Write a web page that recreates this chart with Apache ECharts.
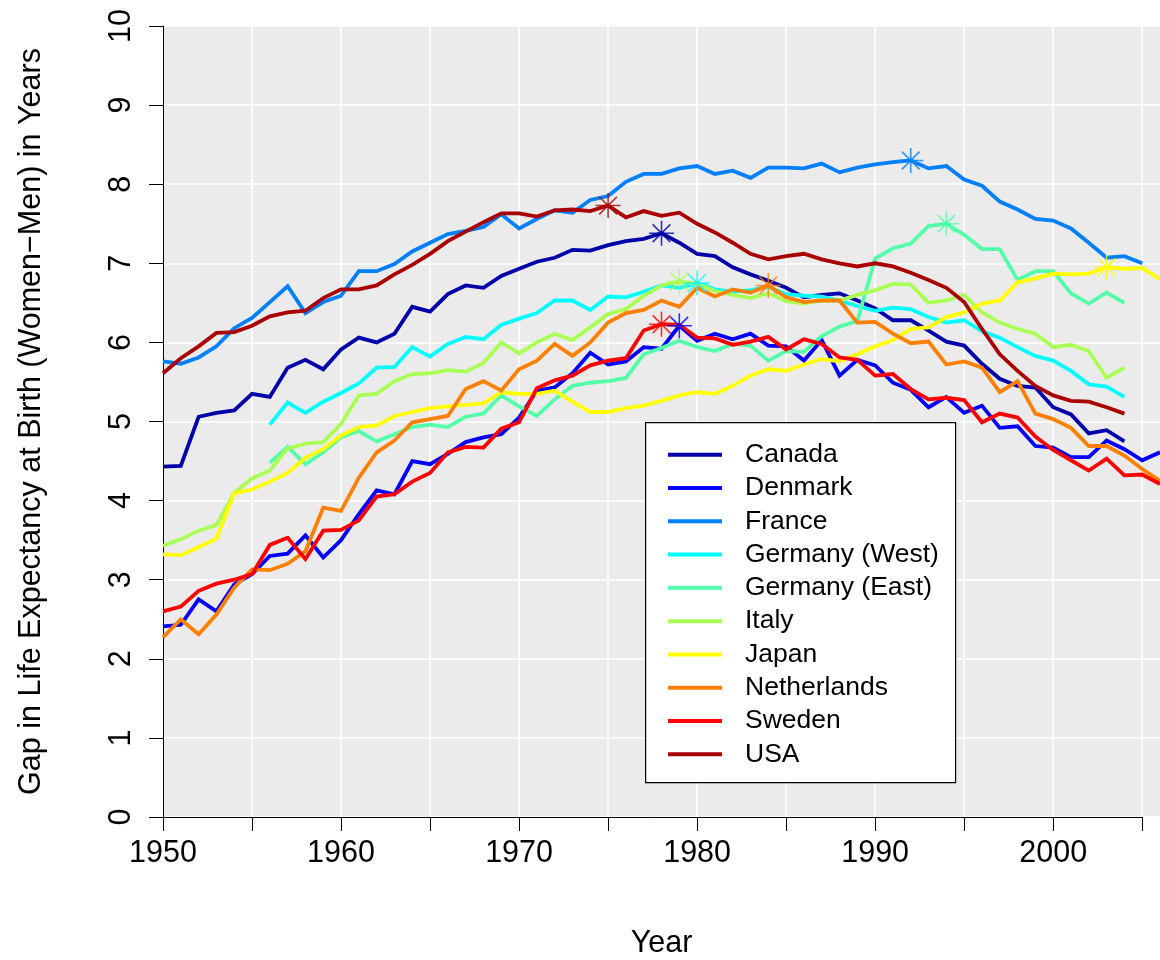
<!DOCTYPE html>
<html>
<head>
<meta charset="utf-8">
<title>Gap in Life Expectancy at Birth</title>
<script src="https://cdn.jsdelivr.net/npm/echarts@6/dist/echarts.min.js"></script>
<style>
  html, body { margin: 0; padding: 0; background: #ffffff; }
  #chart { width: 1160px; height: 960px; }
</style>
</head>
<body>
<div id="chart"></div>
<script>
// Gap (women minus men) in life expectancy at birth, years, by country.
const seriesNames = ['Canada', 'Denmark', 'France', 'Germany (West)', 'Germany (East)',
  'Italy', 'Japan', 'Netherlands', 'Sweden', 'USA'];
const firstYears = [1950, 1950, 1950, 1956, 1956, 1950, 1950, 1950, 1950, 1950];

const canada = [4.43, 4.44, 5.06, 5.11, 5.14, 5.35, 5.31, 5.68, 5.78, 5.66,
  5.91, 6.06, 6.00, 6.11, 6.45, 6.39, 6.61, 6.72, 6.69, 6.84,
  6.93, 7.02, 7.07, 7.17, 7.16, 7.23, 7.28, 7.31, 7.38, 7.26,
  7.12, 7.09, 6.95, 6.86, 6.78, 6.69, 6.57, 6.60, 6.62, 6.53,
  6.43, 6.28, 6.28, 6.15, 6.01, 5.96, 5.73, 5.54, 5.45, 5.43,
  5.18, 5.09, 4.85, 4.89, 4.75];
const denmark = [2.41, 2.43, 2.75, 2.60, 2.94, 3.07, 3.30, 3.33, 3.56, 3.28,
  3.50, 3.83, 4.13, 4.08, 4.50, 4.46, 4.59, 4.74, 4.80, 4.84,
  5.05, 5.39, 5.43, 5.61, 5.87, 5.72, 5.76, 5.94, 5.92, 6.21,
  6.02, 6.11, 6.04, 6.11, 5.96, 5.95, 5.77, 6.03, 5.58, 5.78,
  5.71, 5.49, 5.40, 5.18, 5.31, 5.11, 5.20, 4.92, 4.94, 4.69,
  4.67, 4.55, 4.55, 4.76, 4.65, 4.51, 4.61];
const france = [5.76, 5.73, 5.81, 5.95, 6.18, 6.31, 6.51, 6.71, 6.37, 6.51,
  6.59, 6.90, 6.90, 6.99, 7.15, 7.26, 7.37, 7.41, 7.46, 7.62,
  7.44, 7.56, 7.67, 7.64, 7.80, 7.85, 8.03, 8.13, 8.13, 8.20,
  8.23, 8.13, 8.17, 8.08, 8.21, 8.21, 8.20, 8.26, 8.15, 8.21,
  8.25, 8.28, 8.30, 8.20, 8.23, 8.06, 7.98, 7.78, 7.68, 7.56,
  7.54, 7.44, 7.26, 7.07, 7.09, 7.00];
const germanyWest = [4.96, 5.24, 5.11, 5.25,
  5.36, 5.48, 5.68, 5.69, 5.94, 5.82, 5.98, 6.07, 6.04, 6.22,
  6.30, 6.37, 6.53, 6.53, 6.41, 6.58, 6.57, 6.64, 6.72, 6.69,
  6.75, 6.67, 6.64, 6.66, 6.70, 6.61, 6.59, 6.58, 6.53, 6.46,
  6.40, 6.44, 6.42, 6.32, 6.25, 6.28, 6.14, 6.06, 5.94, 5.83,
  5.77, 5.64, 5.47, 5.44, 5.31];
const germanyEast = [4.48, 4.68, 4.46, 4.61,
  4.80, 4.88, 4.75, 4.84, 4.93, 4.96, 4.93, 5.06, 5.10, 5.33,
  5.19, 5.07, 5.28, 5.45, 5.49, 5.51, 5.55, 5.85, 5.93, 6.02,
  5.94, 5.89, 5.98, 5.96, 5.77, 5.89, 5.88, 6.08, 6.20, 6.27,
  7.06, 7.19, 7.25, 7.47, 7.50, 7.36, 7.18, 7.18, 6.79, 6.90,
  6.90, 6.62, 6.49, 6.63, 6.50];
const italy = [3.43, 3.51, 3.62, 3.69, 4.10, 4.28, 4.38, 4.66, 4.72, 4.74,
  4.97, 5.33, 5.35, 5.51, 5.60, 5.61, 5.65, 5.63, 5.74, 6.00,
  5.86, 6.00, 6.11, 6.03, 6.19, 6.36, 6.42, 6.59, 6.72, 6.77,
  6.74, 6.65, 6.60, 6.56, 6.62, 6.52, 6.49, 6.53, 6.53, 6.60,
  6.66, 6.74, 6.73, 6.50, 6.53, 6.60, 6.38, 6.25, 6.17, 6.11,
  5.94, 5.97, 5.89, 5.55, 5.68];
const japan = [3.32, 3.31, 3.41, 3.52, 4.09, 4.14, 4.24, 4.35, 4.54, 4.65,
  4.82, 4.93, 4.95, 5.07, 5.12, 5.17, 5.19, 5.21, 5.23, 5.37,
  5.35, 5.35, 5.39, 5.25, 5.12, 5.12, 5.17, 5.20, 5.26, 5.33,
  5.37, 5.35, 5.45, 5.58, 5.66, 5.64, 5.72, 5.79, 5.76, 5.85,
  5.95, 6.03, 6.17, 6.19, 6.32, 6.38, 6.49, 6.53, 6.76, 6.81,
  6.87, 6.86, 6.87, 6.95, 6.93, 6.94, 6.80];
const netherlands = [2.27, 2.50, 2.31, 2.56, 2.90, 3.13, 3.12, 3.20, 3.36, 3.91,
  3.87, 4.29, 4.61, 4.76, 4.99, 5.03, 5.07, 5.41, 5.51, 5.39,
  5.66, 5.77, 5.98, 5.83, 6.00, 6.25, 6.37, 6.41, 6.53, 6.45,
  6.69, 6.58, 6.67, 6.63, 6.72, 6.57, 6.51, 6.53, 6.53, 6.25,
  6.26, 6.11, 5.99, 6.01, 5.72, 5.76, 5.68, 5.37, 5.51, 5.10,
  5.03, 4.92, 4.69, 4.69, 4.57, 4.40, 4.25];
const sweden = [2.60, 2.66, 2.86, 2.95, 3.00, 3.07, 3.44, 3.53, 3.26, 3.62,
  3.63, 3.75, 4.05, 4.08, 4.24, 4.35, 4.61, 4.68, 4.67, 4.91,
  4.99, 5.42, 5.52, 5.58, 5.71, 5.77, 5.80, 6.15, 6.23, 6.22,
  6.06, 6.05, 5.97, 6.01, 6.07, 5.91, 6.04, 5.98, 5.81, 5.78,
  5.58, 5.60, 5.41, 5.28, 5.30, 5.27, 4.99, 5.10, 5.05, 4.81,
  4.64, 4.51, 4.38, 4.53, 4.32, 4.33, 4.21];
const usa = [5.61, 5.80, 5.95, 6.12, 6.13, 6.21, 6.33, 6.38, 6.40, 6.56,
  6.67, 6.67, 6.72, 6.86, 6.98, 7.12, 7.28, 7.40, 7.52, 7.63,
  7.63, 7.59, 7.67, 7.68, 7.66, 7.73, 7.58, 7.66, 7.60, 7.64,
  7.50, 7.39, 7.26, 7.12, 7.05, 7.09, 7.12, 7.05, 7.00, 6.96,
  7.00, 6.96, 6.88, 6.79, 6.69, 6.51, 6.17, 5.85, 5.64, 5.45,
  5.33, 5.26, 5.25, 5.18, 5.10];

const xTickYears = [1950, 1955, 1960, 1965, 1970, 1975, 1980, 1985, 1990, 1995, 2000, 2005];
const xLabelYears = [1950, 1960, 1970, 1980, 1990, 2000];

const seriesValues = [canada, denmark, france, germanyWest, germanyEast,
  italy, japan, netherlands, sweden, usa];
const seriesColors = ['#0000AA', '#0000FF', '#0080FF', '#00FFFF', '#55FFAA',
  '#AAFF55', '#FFFF00', '#FF8000', '#FF0000', '#AA0000'];

const FONT = '"Liberation Sans", Arial, Helvetica, sans-serif';
const AXIS_FONT_SIZE = 30.5;

// pair each value with its calendar year
function toPoints(values, start) {
  return values.map((v, i) => [start + i, v]);
}
// year and value of a series' largest gap (first one if tied)
function peakOf(points) {
  let best = points[0];
  points.forEach(p => { if (p[1] > best[1]) best = p; });
  return best;
}

// asterisk: a plus sign overlaid with a cross
const ASTERISK = 'path://M12,0L12,24M0,12L24,12M3.5,3.5L20.5,20.5M3.5,20.5L20.5,3.5';

const lineSeries = seriesNames.map((name, k) => {
  const s = {
    name: name,
    type: 'line',
    data: toPoints(seriesValues[k], firstYears[k]),
    showSymbol: false,
    symbol: 'none',
    color: seriesColors[k],
    lineStyle: { color: seriesColors[k], width: 3.8, cap: 'butt', join: 'miter' },
    emphasis: { disabled: true },
    animation: false
  };
  if (k === 0) {
    // bottom axis line, running from the first to the last tick
    s.markLine = {
      silent: true,
      symbol: 'none',
      animation: false,
      label: { show: false },
      emphasis: { disabled: true },
      lineStyle: { color: '#000000', width: 1, type: 'solid' },
      data: [[{ coord: [xTickYears[0], 0] }, { coord: [xTickYears[xTickYears.length - 1], 0] }]]
    };
  }
  return s;
});

const peakSeries = seriesNames.map((name, k) => ({
  name: name + ' peak',
  type: 'scatter',
  data: [peakOf(toPoints(seriesValues[k], firstYears[k]))],
  symbol: ASTERISK,
  symbolSize: 25,
  itemStyle: { color: 'rgba(0,0,0,0)', borderColor: seriesColors[k], borderWidth: 1.6 },
  emphasis: { disabled: true },
  animation: false,
  z: 3
}));

const chart = echarts.init(document.getElementById('chart'), null, { renderer: 'canvas' });
chart.setOption({
  animation: false,
  backgroundColor: '#ffffff',
  textStyle: { fontFamily: FONT },
  grid: {
    left: 163, top: 26, right: 0, bottom: 143,
    outerBoundsMode: 'none',
    containLabel: false,
    show: true, backgroundColor: '#EBEBEB', borderWidth: 0
  },
  xAxis: {
    type: 'value',
    min: 1950, max: 2006, interval: 5,
    name: 'Year',
    nameLocation: 'middle',
    nameGap: 111,
    nameTextStyle: { fontFamily: FONT, fontSize: AXIS_FONT_SIZE, color: '#000' },
    axisLine: { show: false },
    axisTick: { show: true, length: 14, lineStyle: { color: '#000', width: 1 }, customValues: xTickYears },
    axisLabel: {
      customValues: xLabelYears,
      formatter: v => String(v),
      margin: 21, fontFamily: FONT, fontSize: AXIS_FONT_SIZE, color: '#000'
    },
    splitLine: { show: true, lineStyle: { color: '#ffffff', width: 1.6 } }
  },
  yAxis: {
    type: 'value',
    min: 0, max: 10, interval: 1,
    name: 'Gap in Life Expectancy at Birth (Women\u2212Men) in Years',
    nameLocation: 'middle',
    nameRotate: 90,
    nameGap: 116,
    nameTextStyle: { fontFamily: FONT, fontSize: AXIS_FONT_SIZE, color: '#000' },
    axisLine: { show: true, lineStyle: { color: '#000', width: 1 } },
    axisTick: { show: true, length: 14, lineStyle: { color: '#000', width: 1 } },
    axisLabel: { rotate: 90, margin: 26, fontFamily: FONT, fontSize: AXIS_FONT_SIZE, color: '#000' },
    splitLine: { show: true, lineStyle: { color: '#ffffff', width: 1.6 } }
  },
  legend: {
    data: seriesNames,
    orient: 'vertical',
    left: 668,
    top: 438,
    padding: 0,
    itemGap: 0,
    itemWidth: 54,
    itemHeight: 4,
    icon: 'rect',
    selectedMode: false,
    z: 8,
    textStyle: { fontFamily: FONT, fontSize: 26.5, lineHeight: 33.3, color: '#000', padding: [0, 0, 0, 18] }
  },
  graphic: [{
    type: 'rect',
    left: 645, top: 422,
    z: 6,
    shape: { width: 310, height: 360 },
    style: { fill: '#ffffff', stroke: '#000000', lineWidth: 1.2 }
  }],
  series: lineSeries.concat(peakSeries)
});
</script>
</body>
</html>
